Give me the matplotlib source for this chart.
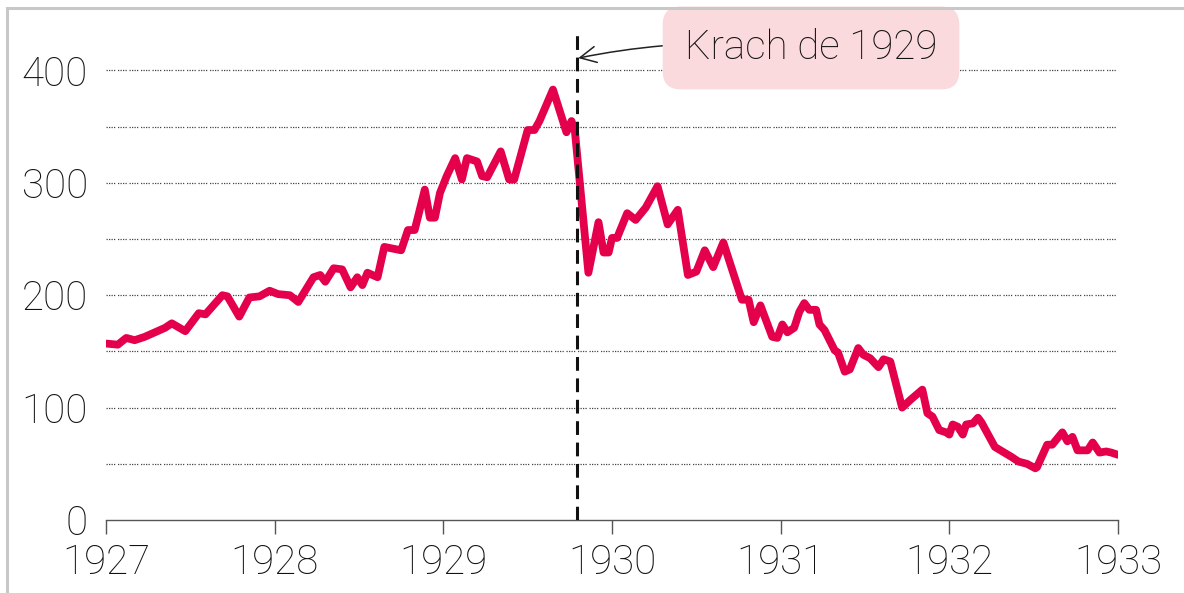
import matplotlib
matplotlib.use("Agg")
import matplotlib.pyplot as plt
from matplotlib.patches import Rectangle

# Dow Jones-like index, 1927-1933
years = [1927.00, 1927.07, 1927.12, 1927.17, 1927.23, 1927.29, 1927.35, 1927.39,
         1927.47, 1927.55, 1927.59, 1927.69, 1927.72, 1927.79, 1927.85, 1927.91,
         1927.97, 1928.02, 1928.09, 1928.14, 1928.23, 1928.27, 1928.30, 1928.35,
         1928.40, 1928.45, 1928.49, 1928.52, 1928.55, 1928.61, 1928.65, 1928.75,
         1928.79, 1928.83, 1928.89, 1928.92, 1928.95, 1928.98, 1929.02, 1929.07,
         1929.11, 1929.14, 1929.20, 1929.23, 1929.26, 1929.34, 1929.39, 1929.42,
         1929.50, 1929.54, 1929.57, 1929.65, 1929.73, 1929.76, 1929.78, 1929.86,
         1929.92, 1929.95, 1929.98, 1930.00, 1930.03, 1930.09, 1930.14, 1930.20,
         1930.27, 1930.33, 1930.39, 1930.45, 1930.50, 1930.55, 1930.60, 1930.66,
         1930.77, 1930.81, 1930.84, 1930.88, 1930.95, 1930.98, 1931.01, 1931.04,
         1931.08, 1931.11, 1931.14, 1931.17, 1931.21, 1931.23, 1931.26, 1931.32,
         1931.34, 1931.38, 1931.41, 1931.46, 1931.49, 1931.53, 1931.58, 1931.61,
         1931.65, 1931.72, 1931.77, 1931.84, 1931.87, 1931.90, 1931.94, 1931.98,
         1932.00, 1932.02, 1932.05, 1932.08, 1932.10, 1932.14, 1932.17, 1932.19,
         1932.23, 1932.27, 1932.37, 1932.41, 1932.46, 1932.51, 1932.52, 1932.58,
         1932.61, 1932.67, 1932.70, 1932.73, 1932.76, 1932.82, 1932.85, 1932.89,
         1932.93, 1932.96, 1933.00]
values = [157, 156, 162, 160, 163, 167, 171, 175,
          168, 184, 183, 200, 199, 181, 198, 199,
          204, 201, 200, 194, 216, 218, 212, 224,
          223, 207, 216, 209, 220, 216, 243, 240,
          258, 258, 294, 269, 269, 291, 306, 322,
          303, 322, 319, 306, 305, 328, 303, 303,
          347, 347, 355, 383, 345, 355, 346, 220,
          265, 238, 238, 251, 251, 273, 267, 278,
          297, 263, 276, 218, 221, 240, 225, 247,
          196, 196, 176, 191, 163, 162, 174, 167,
          171, 185, 193, 187, 187, 174, 169, 151,
          149, 132, 134, 153, 147, 144, 136, 143,
          141, 100, 107, 116, 95, 92, 80, 78,
          76, 85, 83, 76, 85, 86, 91, 87,
          76, 65, 56, 52, 50, 46, 47, 67,
          67, 78, 70, 74, 62, 62, 69, 60,
          61, 60, 58]

xticks = [1927, 1928, 1929, 1930, 1931, 1932, 1933]
yticks = [0, 100, 200, 300, 400]
gridlines = [50, 100, 150, 200, 250, 300, 350, 400]
crash_year = 1929.79
label = "Krach de 1929"

plt.rcParams['font.family'] = ['Roboto', 'DejaVu Sans']
txt_color = '#111111'
fsize = 29

fig = plt.figure(figsize=(11.84, 5.93), dpi=100)
ax = fig.add_axes([106 / 1184, 73 / 593, 1012 / 1184, 490 / 593])

# dotted grid
for g in gridlines:
    ax.axhline(g, color='#444444', lw=0.9, ls=(0, (1, 1, 1, 1, 1, 1, 1, 2.2)), zorder=1)

ax.plot(years, values, color='#e4004b', lw=5.6, solid_joinstyle='round',
        solid_capstyle='round', zorder=3)

ax.axvline(crash_year, color='#111111', lw=2.2, ls=(0, (4.5, 2.5)), zorder=4)

ax.annotate(label, xy=(crash_year + 0.01, 411), xytext=(1931.18, 420),
            ha='center', va='center', fontsize=fsize, color=txt_color,
            fontweight='light',
            bbox=dict(boxstyle='round,pad=0.55,rounding_size=0.45', fc='#fadadd', ec='none'),
            arrowprops=dict(arrowstyle='->', color='#222222', lw=1.1,
                            connectionstyle='arc3,rad=0.08', shrinkA=0, shrinkB=0),
            annotation_clip=False, zorder=5)

ax.set_xlim(1927, 1933)
ax.set_ylim(0, 436)
ax.set_xticks(xticks)
ax.set_yticks(yticks)
ax.set_xticklabels([str(x) for x in xticks])
ax.set_yticklabels([str(y) for y in yticks])

for side in ['top', 'right', 'left']:
    ax.spines[side].set_visible(False)
ax.spines['bottom'].set_color('#555555')
ax.spines['bottom'].set_linewidth(1.0)

ax.tick_params(axis='x', length=10, width=1.0, color='#555555', pad=7,
               labelsize=fsize, labelcolor=txt_color)
ax.tick_params(axis='y', length=0, pad=13, labelsize=fsize, labelcolor=txt_color)
for t in ax.get_xticklabels() + ax.get_yticklabels():
    t.set_fontweight('light')

# light grey frame at top and left
fig.patches.append(Rectangle((7 / 1184, -0.1), 1.2, 1.1 - 8 / 593, transform=fig.transFigure,
                             fill=False, ec='#c8c8c8', lw=2.2, zorder=0))

fig.savefig('out.png', dpi=100)
